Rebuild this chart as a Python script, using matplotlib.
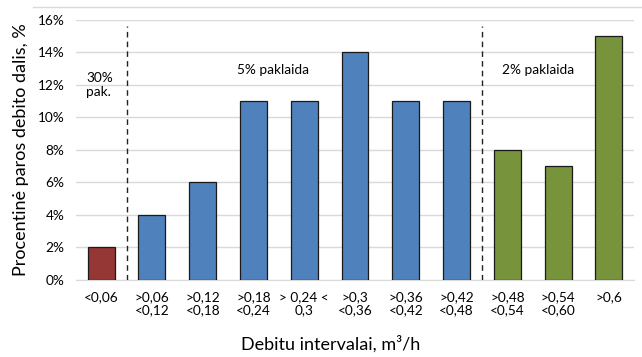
import matplotlib
matplotlib.use("Agg")
import matplotlib.pyplot as plt
from matplotlib.lines import Line2D
from matplotlib.ticker import FuncFormatter

categories = ["<0,06", ">0,06\n<0,12", ">0,12\n<0,18", ">0,18\n<0,24", "> 0,24 <\n0,3",
              ">0,3\n<0,36", ">0,36\n<0,42", ">0,42\n<0,48", ">0,48\n<0,54", ">0,54\n<0,60", ">0,6"]
values = [2, 4, 6, 11, 11, 14, 11, 11, 8, 7, 15]
groups = ["r", "b", "b", "b", "b", "b", "b", "b", "g", "g", "g"]
group_colors = {"r": "#953735", "b": "#4F81BD", "g": "#77933C"}
yticks = [0, 2, 4, 6, 8, 10, 12, 14, 16]

plt.rcParams['font.family'] = ['Lato', 'DejaVu Sans']

fig = plt.figure(figsize=(6.42, 3.57), dpi=100)
ax = fig.add_axes([0.118, 0.2157, 0.870, 0.7283])

x = list(range(len(categories)))
ax.bar(x, values, width=0.53, color=[group_colors[g] for g in groups],
       edgecolor="#1a1a1a", linewidth=0.9, zorder=3)

ax.set_xlim(-0.5, len(categories) - 0.5)
ax.set_ylim(0, 16)
ax.set_yticks(yticks)
ax.yaxis.set_major_formatter(FuncFormatter(lambda v, p: f"{int(v)}%"))
ax.set_xticks(x)
ax.set_xticklabels(categories, fontsize=9.8, linespacing=1.15)
ax.tick_params(axis='y', labelsize=9.8, length=0, pad=8)
ax.tick_params(axis='x', length=0, pad=8)
ax.grid(axis='y', color="#d9d9d9", linewidth=1, zorder=0)
for s in ["top", "right", "left"]:
    ax.spines[s].set_visible(False)
ax.spines["bottom"].set_color("#d9d9d9")

for xv in [0.5, 7.5]:
    ax.plot([xv, xv], [0, 15.6], linestyle=(0, (4, 3)), color="#222222", linewidth=1, zorder=4)

ax.text(-0.3, 12.0, "30%\npak.", fontsize=9.8, ha="left", va="center", linespacing=1.25)
ax.text(3.39, 12.9, "5% paklaida", fontsize=9.8, ha="center", va="center")
ax.text(8.6, 12.9, "2% paklaida", fontsize=9.8, ha="center", va="center")

ax.set_ylabel("Procentinė paros debito dalis, %", fontsize=13, labelpad=6)
fig.text(0.515, 0.012, "Debitu intervalai, m³/h", fontsize=13, ha="center", va="bottom")

fig.add_artist(Line2D([0.051, 1.0], [0.980, 0.980], transform=fig.transFigure,
                      color="#d9d9d9", linewidth=1))

fig.savefig("out.png", dpi=100)
